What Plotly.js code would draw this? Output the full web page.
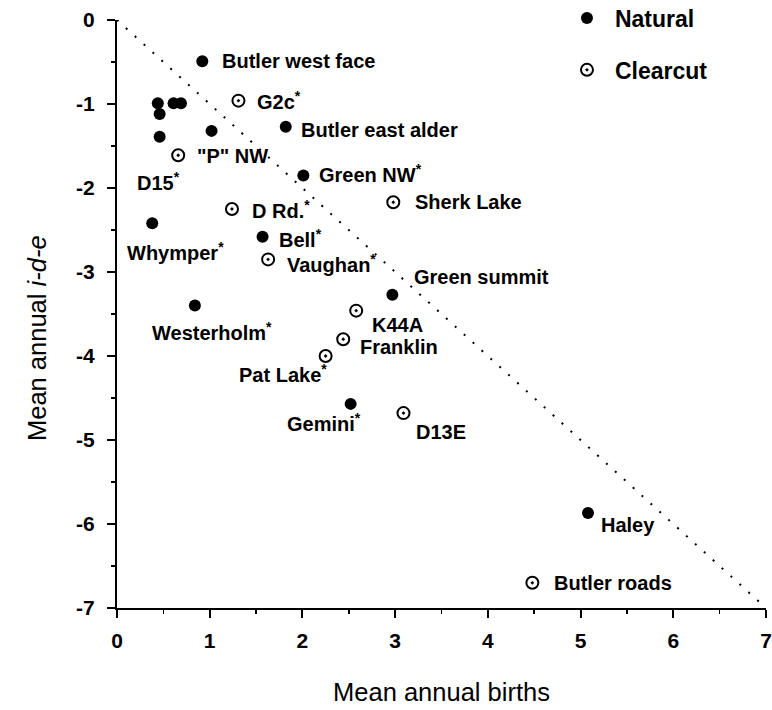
<!DOCTYPE html>
<html>
<head>
<meta charset="utf-8">
<script src="https://cdn.plot.ly/plotly-3.0.1.min.js"></script>
<style>html,body{margin:0;padding:0;background:#fff;}#chart{width:772px;height:710px;}</style>
</head>
<body>
<div id="chart"></div>
<script>
// ---- data ----
const naturalNames = ["Butler west face", "", "", "", "", "D15<sup>*</sup>", "", "Butler east alder", "Green NW<sup>*</sup>", "Whymper<sup>*</sup>", "Bell<sup>*</sup>", "Westerholm<sup>*</sup>", "Green summit", "Gemini<sup>*</sup>", "Haley"];
const naturalBirths = [0.92, 0.44, 0.61, 0.69, 0.46, 0.46, 1.02, 1.82, 2.01, 0.38, 1.57, 0.84, 2.97, 2.52, 5.08];
const naturalIDE = [-0.49, -0.99, -0.99, -0.99, -1.12, -1.39, -1.32, -1.27, -1.85, -2.42, -2.58, -3.40, -3.27, -4.57, -5.87];

const clearcutNames = ["G2c<sup>*</sup>", "\"P\" NW", "D Rd.<sup>*</sup>", "Vaughan<sup>*</sup>", "Sherk Lake", "K44A", "Franklin", "Pat Lake<sup>*</sup>", "D13E", "Butler roads"];
const clearcutBirths = [1.31, 0.66, 1.24, 1.63, 2.98, 2.58, 2.44, 2.25, 3.09, 4.48];
const clearcutIDE = [-0.96, -1.61, -2.25, -2.85, -2.17, -3.46, -3.80, -4.00, -4.68, -6.70];

const refLineX = [0, 7];
const refLineY = [0, -7];

const xTickVals = [0, 1, 2, 3, 4, 5, 6, 7];
const yTickVals = [0, -1, -2, -3, -4, -5, -6, -7];

// ---- label offsets (pixels, style only) ----
const naturalLabelShift = [[18,0],null,null,null,null,[-25,-45],null,[13,-3],[14,2],[-27,-28],[14,-2],[-45,-26],[20,18],[-66,-19],[11,-12]];
const clearcutLabelShift = [[17,0],[17,-1],[18,0],[17,-4],[20,0],[14,-14],[15,-8],[-89,-17],[11,-19],[20,0]];

const FONT = "Arial, 'Liberation Sans', sans-serif";
const annotations = [];
function addLabels(names, xs, ys, shifts) {
  names.forEach((n, i) => {
    if (!n || !shifts[i]) return;
    annotations.push({
      x: xs[i], y: ys[i], xref: 'x', yref: 'y', text: n, showarrow: false,
      xanchor: 'left', yanchor: 'middle', xshift: shifts[i][0], yshift: shifts[i][1],
      font: {family: FONT, size: 20, color: '#000', weight: 'bold'}
    });
  });
}
addLabels(naturalNames, naturalBirths, naturalIDE, naturalLabelShift);
addLabels(clearcutNames, clearcutBirths, clearcutIDE, clearcutLabelShift);

// y-axis title (annotation so it can sit slightly below centre, as in the reference)
annotations.push({
  x: 0, xref: 'paper', xanchor: 'center', xshift: -80,
  y: 0.5, yref: 'paper', yanchor: 'middle', yshift: -24,
  textangle: -90, showarrow: false,
  text: 'Mean annual <i>i-d-e</i>',
  font: {family: FONT, size: 25.5, color: '#000'}
});

const traces = [
  {x: refLineX, y: refLineY, mode: 'lines', line: {color: '#000', width: 2, dash: '2px,10px'}, showlegend: false, hoverinfo: 'skip'},
  {x: naturalBirths, y: naturalIDE, mode: 'markers', name: 'Natural', legendgroup: 'a',
   marker: {symbol: 'circle', size: 12, color: '#000'}, cliponaxis: false},
  {x: clearcutBirths, y: clearcutIDE, mode: 'markers', name: 'Clearcut', legendgroup: 'b',
   marker: {symbol: 'circle-open-dot', size: 12, color: '#000', line: {width: 2, color: '#000'}}, cliponaxis: false}
];

const axisCommon = {
  showgrid: false, zeroline: false, showline: true, linecolor: '#000', linewidth: 2,
  ticks: 'outside', ticklen: 8, tickwidth: 2, tickcolor: '#000',
  minor: {ticks: 'outside', ticklen: 4, tickwidth: 1.5, tickcolor: '#000', dtick: 0.5, showgrid: false},
  tickfont: {family: FONT, size: 21, color: '#000', weight: 'bold'}
};

const layout = {
  width: 772, height: 710,
  margin: {l: 117, r: 6, t: 20, b: 102, autoexpand: false},
  paper_bgcolor: '#fff', plot_bgcolor: '#fff',
  showlegend: true,
  legend: {x: 0.681, xanchor: 'left', y: 1.04, yanchor: 'top', tracegroupgap: 19, itemwidth: 46,
           font: {family: FONT, size: 23, color: '#000', weight: 'bold'}, bgcolor: 'rgba(0,0,0,0)'},
  xaxis: Object.assign({}, axisCommon, {
    range: [0, 7], tickvals: xTickVals, ticktext: xTickVals.map(String), ticklabelstandoff: 5,
    title: {text: 'Mean annual births', font: {family: FONT, size: 25.5, color: '#000'}, standoff: 32}
  }),
  yaxis: Object.assign({}, axisCommon, {
    range: [-7, 0], tickvals: yTickVals, ticktext: yTickVals.map(String), ticklabelstandoff: 8
  }),
  annotations: annotations
};

Plotly.newPlot('chart', traces, layout, {displayModeBar: false, staticPlot: true});
</script>
</body>
</html>
